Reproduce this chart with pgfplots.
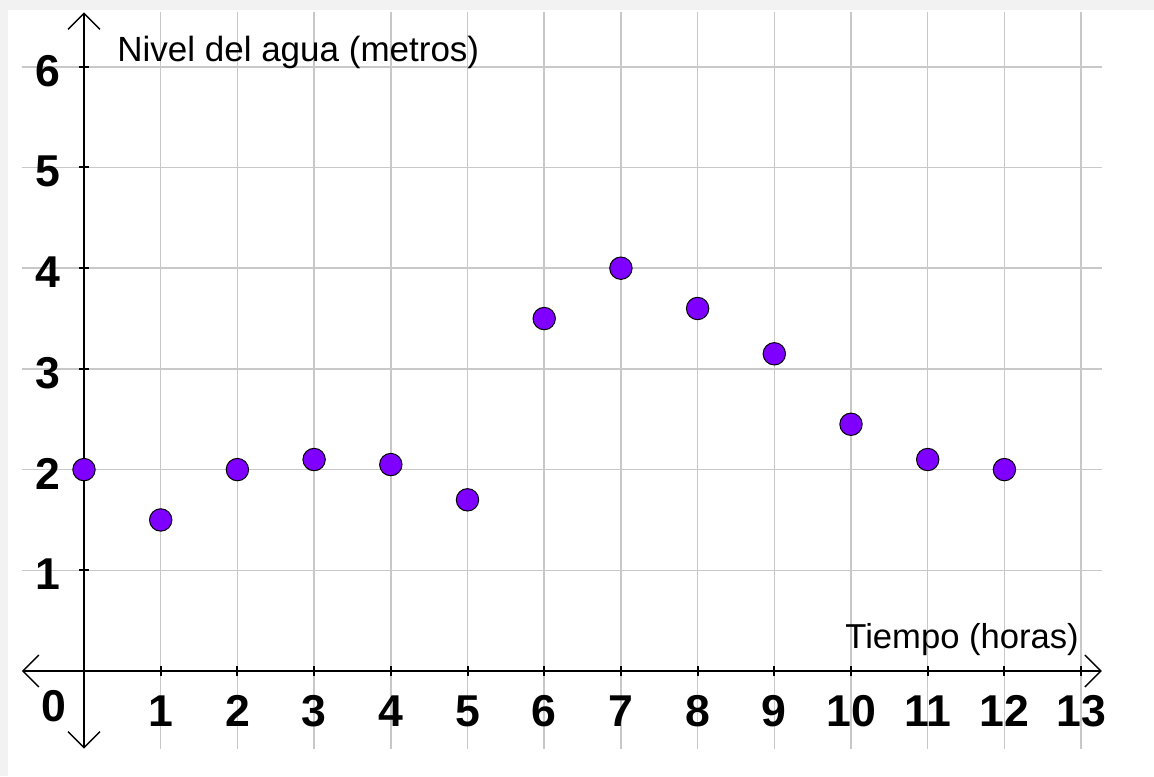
\documentclass[border=0pt]{standalone}
\usepackage{fontspec}
\setmainfont{Liberation Sans}
\usepackage{pgfplots}
\pgfplotsset{compat=1.18}
\usetikzlibrary{arrows.meta}

\definecolor{gridgray}{RGB}{200,200,200}
\definecolor{dotpurple}{RGB}{128,0,255}
\definecolor{bggray}{RGB}{242,242,242}

\begin{document}
\begin{tikzpicture}
% page = 1154x776 px at 0.5pt per px, origin of the axis at (0,0)
\useasboundingbox (-42pt,-52.5pt) rectangle (535pt,335.5pt);
\fill[bggray] (-42pt,-52.5pt) rectangle (535pt,335.5pt);
\fill[white] (-38pt,-52.5pt) rectangle (535pt,330.5pt);
\begin{axis}[
    at={(0,0)}, anchor=origin,
    x=38.35pt, y=50.35pt,
    xmin=-0.81, xmax=13.27,
    ymin=-0.77, ymax=6.54,
    axis lines=middle,
    axis line style={black, line width=1.2pt,
        {Straight Barb[length=8pt,width=16pt,line width=0.7pt]}-{Straight Barb[length=8pt,width=16pt,line width=0.7pt]}},
    xtick={1,...,13},
    ytick={1,...,6},
    grid=major,
    grid style={gridgray, line width=0.75pt},
    major tick length=5pt,
    major tick style={black, line width=1pt},
    /pgf/number format/assume math mode=true,
    tick label style={font=\fontsize{22.3}{24}\selectfont\bfseries},
    xticklabel style={anchor=north, inner sep=0pt, yshift=-9.5pt},
    yticklabel style={anchor=east, inner sep=0pt, xshift=-9pt, yshift=-2pt},
    clip=false,
]
\addplot[only marks, mark=*, mark size=5.6pt,
    mark options={draw=black, line width=0.5pt, fill=dotpurple}]
coordinates {
    (0,2.0) (1,1.5) (2,2.0) (3,2.1) (4,2.05) (5,1.7) (6,3.5)
    (7,4.0) (8,3.6) (9,3.15) (10,2.45) (11,2.1) (12,2.0)
};
\node[anchor=north, inner sep=0pt, font=\fontsize{22.3}{24}\selectfont\bfseries]
    at (axis cs:0,0) [xshift=-15pt, yshift=-9.5pt] {0};
\node[anchor=base west, inner sep=0pt, font=\fontsize{17.5}{20}\selectfont]
    at (axis cs:0,6.05) [xshift=16.5pt] {Nivel del agua (metros)};
\node[anchor=base east, inner sep=0pt, font=\fontsize{17.3}{20}\selectfont]
    at (axis cs:13,0) [xshift=-1pt, yshift=11.5pt] {Tiempo (horas)};
\end{axis}
\end{tikzpicture}
\end{document}
